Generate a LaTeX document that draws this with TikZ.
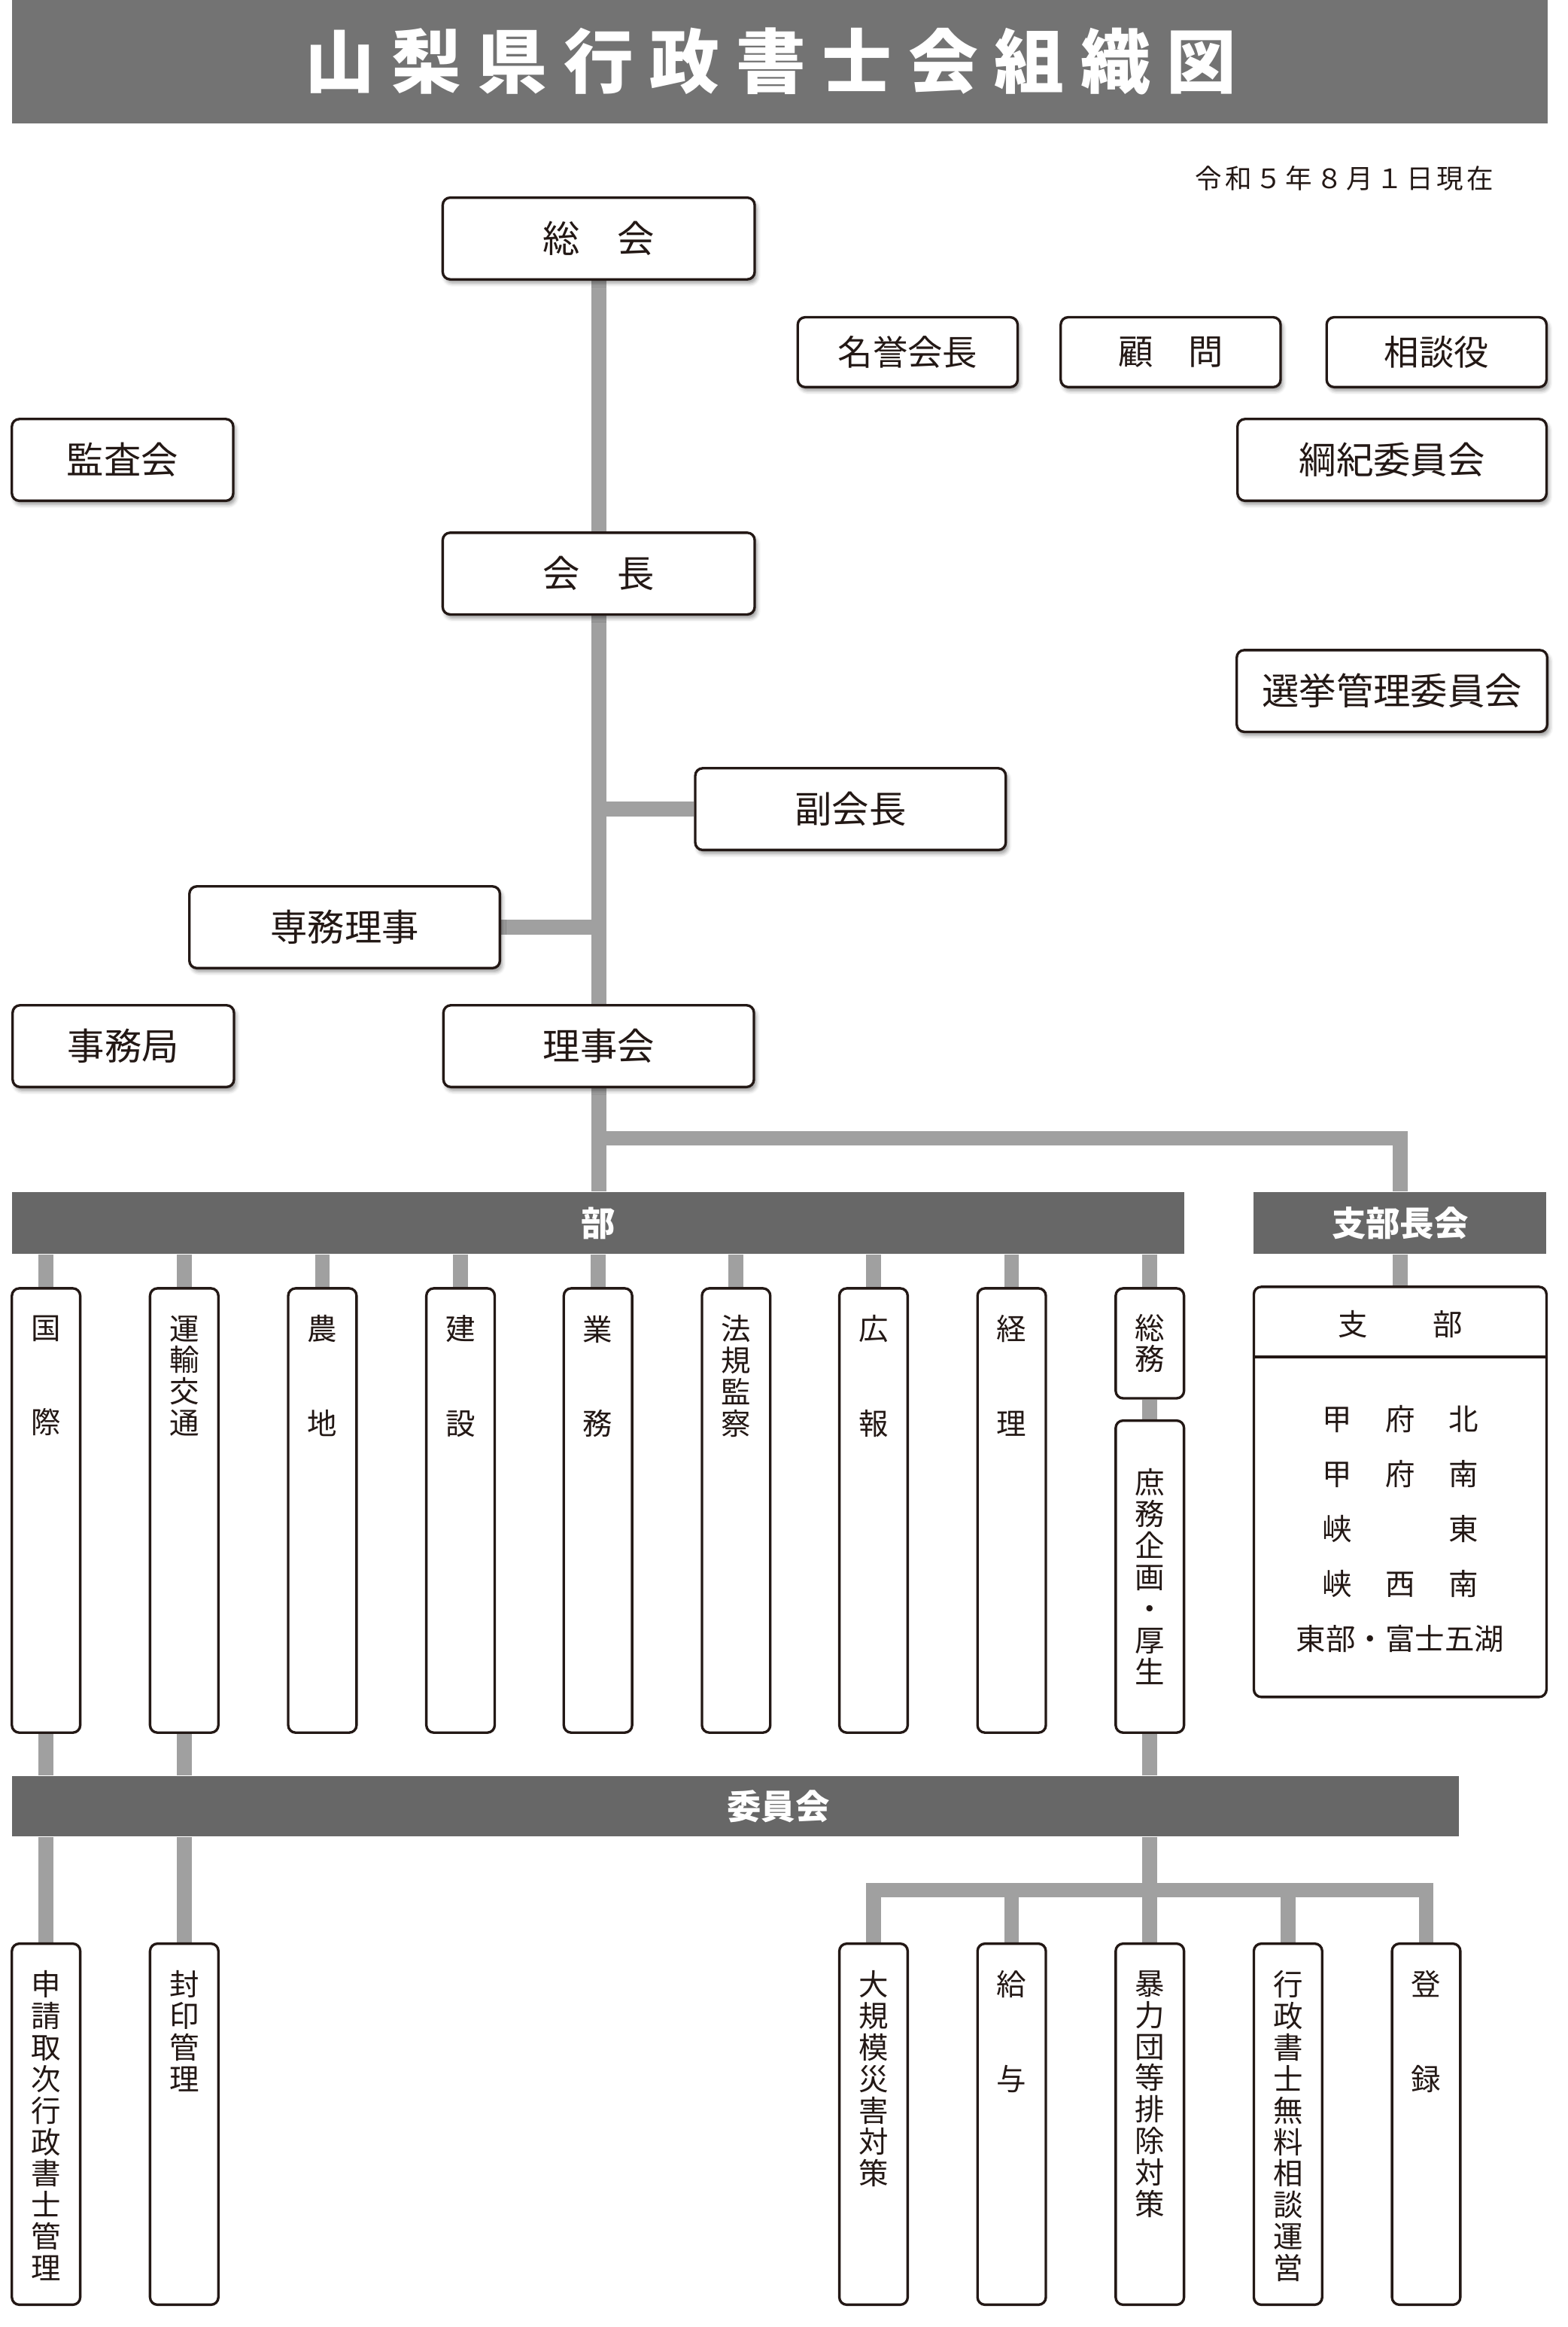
\documentclass[tikz,border=0pt]{standalone}
\usepackage{fontspec}
\newfontfamily\jp{Noto Sans CJK JP}
\usetikzlibrary{shadows.blur,backgrounds}
\definecolor{ink}{HTML}{231815}
\definecolor{conn}{HTML}{A0A0A0}
\definecolor{barc}{HTML}{676767}
\definecolor{titlec}{HTML}{737373}
\tikzset{
  ob/.style={draw=ink, line width=1.7pt, rounded corners=5pt, fill=white, inner sep=0pt, text=ink},
  shad/.style={blur shadow={shadow xshift=1.5pt, shadow yshift=-2.5pt, shadow blur radius=2.5pt, shadow opacity=40}},
  hb/.style={ob, shad, minimum height=55pt, font=\jp\fontsize{25}{25}\selectfont},
  hbs/.style={ob, shad, minimum width=148pt, minimum height=47pt, font=\jp\fontsize{23.5}{23.5}\selectfont},
  vb/.style={ob, minimum width=46pt},
  vt/.style={inner sep=0pt, text=ink, align=center, font=\jp\fontsize{20}{21.2}\selectfont},
  bar/.style={fill=barc, inner sep=0pt, text=white, font=\jp\bfseries\fontsize{23}{23}\selectfont},
  cn/.style={draw=conn, line width=10pt, line join=miter},
  lt/.style={inner sep=0pt, text=ink, font=\jp\fontsize{20}{20}\selectfont},
}
\begin{document}
\begin{tikzpicture}[x=1pt,y=-1pt]
\useasboundingbox (0,0) rectangle (1055,1566);
% title
\node[fill=titlec, minimum width=1034pt, minimum height=83pt, inner sep=0pt] (titlebar) at (525,41.5) {};
\node[text=white, inner sep=0pt, font=\jp\bfseries\fontsize{47}{47}\selectfont] (title) at (519,41)
  {山\hspace{11pt}梨\hspace{11pt}県\hspace{11pt}行\hspace{11pt}政\hspace{11pt}書\hspace{11pt}士\hspace{11pt}会\hspace{11pt}組\hspace{11pt}織\hspace{11pt}図};
\node[inner sep=0pt, text=ink, font=\jp\fontsize{18}{18}\selectfont] (date) at (905,120)
  {令\kern2.3pt 和\kern2.3pt ５\kern2.3pt 年\kern2.3pt ８\kern2.3pt 月\kern2.3pt １\kern2.3pt 日\kern2.3pt 現\kern2.3pt 在};

% upper boxes
\node[hb, minimum width=210pt] (soukai) at (403,160.5) {総　会};
\node[hbs] (meiyo) at (611,237) {名誉会長};
\node[hbs] (komon) at (788,237) {顧　問};
\node[hbs] (soudan) at (967,237) {相談役};
\node[hb, minimum width=149pt] (kansa) at (82.5,309.5) {監査会};
\node[hb, minimum width=208pt] (kouki) at (937,309.5) {綱紀委員会};
\node[hb, minimum width=210pt] (kaichou) at (403,386) {会　長};
\node[hb, minimum width=209pt] (senkyo) at (937,465) {選挙管理委員会};
\node[hb, minimum width=209pt] (fuku) at (572.5,544.5) {副会長};
\node[hb, minimum width=209pt] (senmu) at (232,624) {専務理事};
\node[hb, minimum width=209pt] (rijikai) at (403,704) {理事会};
\node[hb, minimum width=149pt] (jimu) at (83,704) {事務局};

% bars
\node[bar, minimum width=789pt, minimum height=42pt] (bu) at (402.5,823) {部};
\node[bar, minimum width=197pt, minimum height=42pt] (sbc) at (942.5,823) {支部長会};
\node[bar, minimum width=974pt, minimum height=41pt] (iin) at (495,1215.5) {};
\node[inner sep=0pt, text=white, font=\jp\bfseries\fontsize{23}{23}\selectfont] (iintext) at (524,1215.5) {委員会};

% department boxes
\node[vb, minimum height=299pt] (k1) at (31,1016.5) {};
\node[vb, minimum height=299pt] (k2) at (124,1016.5) {};
\node[vb, minimum height=299pt] (k3) at (217,1016.5) {};
\node[vb, minimum height=299pt] (k4) at (310,1016.5) {};
\node[vb, minimum height=299pt] (k5) at (402.5,1016.5) {};
\node[vb, minimum height=299pt] (k6) at (495.5,1016.5) {};
\node[vb, minimum height=299pt] (k7) at (588,1016.5) {};
\node[vb, minimum height=299pt] (k8) at (681,1016.5) {};
\node[vb, minimum height=74pt] (k9) at (774,904) {};
\node[vb, minimum height=210pt] (k9b) at (774,1061) {};
\node[vt, anchor=north] (t1) at (31,885) {国\\[42.4pt]際};
\node[vt, anchor=north] (t2) at (124,885) {運\\輸\\交\\通};
\node[vt, anchor=north] (t3) at (217,885) {農\\[42.4pt]地};
\node[vt, anchor=north] (t4) at (310,885) {建\\[42.4pt]設};
\node[vt, anchor=north] (t5) at (402.5,885) {業\\[42.4pt]務};
\node[vt, anchor=north] (t6) at (495.5,885) {法\\規\\監\\察};
\node[vt, anchor=north] (t7) at (588,885) {広\\[42.4pt]報};
\node[vt, anchor=north] (t8) at (681,885) {経\\[42.4pt]理};
\node[vt] (t9) at (774,904) {総\\務};
\node[vt] (t9b) at (774,1061) {庶\\務\\企\\画\\・\\厚\\生};

% branch box
\node[ob, minimum width=197pt, minimum height=276pt] (shibu) at (942.5,1004) {};
\draw[draw=ink, line width=1.7pt] ([yshift=-48pt]shibu.north west) -- ([yshift=-48pt]shibu.north east);
\node[lt] (shibuh) at (942.5,891) {支\hspace{44pt}部};
\node[lt] (r1) at (942.5,955) {\makebox[42.5pt]{甲}\makebox[42.5pt]{府}\makebox[42.5pt]{北}};
\node[lt] (r2) at (942.5,992) {\makebox[42.5pt]{甲}\makebox[42.5pt]{府}\makebox[42.5pt]{南}};
\node[lt] (r3) at (942.5,1029) {\makebox[42.5pt]{峡}\makebox[42.5pt]{}\makebox[42.5pt]{東}};
\node[lt] (r4) at (942.5,1066) {\makebox[42.5pt]{峡}\makebox[42.5pt]{西}\makebox[42.5pt]{南}};
\node[lt] (r5) at (942.5,1103) {東部・富士五湖};

% committee boxes
\node[vb, minimum height=243pt] (b1) at (31,1429.5) {};
\node[vb, minimum height=243pt] (b2) at (124,1429.5) {};
\node[vb, minimum height=243pt] (b3) at (588,1429.5) {};
\node[vb, minimum height=243pt] (b4) at (681,1429.5) {};
\node[vb, minimum height=243pt] (b5) at (774,1429.5) {};
\node[vb, minimum height=243pt] (b6) at (867,1429.5) {};
\node[vb, minimum height=243pt] (b7) at (960,1429.5) {};
\node[vt, anchor=north] (u1) at (31,1326) {申\\請\\取\\次\\行\\政\\書\\士\\管\\理};
\node[vt, anchor=north] (u2) at (124,1326) {封\\印\\管\\理};
\node[vt, anchor=north] (u3) at (588,1326) {大\\規\\模\\災\\害\\対\\策};
\node[vt, anchor=north] (u4) at (681,1326) {給\\[42.4pt]与};
\node[vt, anchor=north] (u5) at (774,1326) {暴\\力\\団\\等\\排\\除\\対\\策};
\node[vt, anchor=north] (u6) at (867,1326) {行\\政\\書\\士\\無\\料\\相\\談\\運\\営};
\node[vt, anchor=north] (u7) at (960,1326) {登\\[42.4pt]録};

% connectors
\begin{scope}[on background layer]
\draw[cn] (soukai.south) -- (rijikai.north);
\draw[cn] (fuku.west -| soukai.south) -- (fuku.west);
\draw[cn] (senmu.east) -- (senmu.east -| soukai.south);
\draw[cn] (rijikai.south) -- (rijikai.south |- bu.north);
\coordinate (jb) at (403,766);
\draw[cn] (jb) -| (sbc.north);
\draw[cn] (sbc.south) -- (shibu.north);
\foreach \i in {1,...,9} \draw[cn] (k\i.north |- bu.south) -- (k\i.north);
\draw[cn] (k9.south) -- (k9b.north);
\draw[cn] (k1.south) -- (k1.south |- iin.north);
\draw[cn] (k2.south) -- (k2.south |- iin.north);
\draw[cn] (k9b.south) -- (k9b.south |- iin.north);
\draw[cn] (b1.north |- iin.south) -- (b1.north);
\draw[cn] (b2.north |- iin.south) -- (b2.north);
\draw[cn] (b5.north |- iin.south) -- (b5.north);
\coordinate (jc) at (774,1272);
\draw[cn] (b3.north) -- (b3.north |- jc) -- (b7.north |- jc) -- (b7.north);
\draw[cn] (b4.north |- jc) -- (b4.north);
\draw[cn] (b6.north |- jc) -- (b6.north);
\end{scope}
\end{tikzpicture}
\end{document}
